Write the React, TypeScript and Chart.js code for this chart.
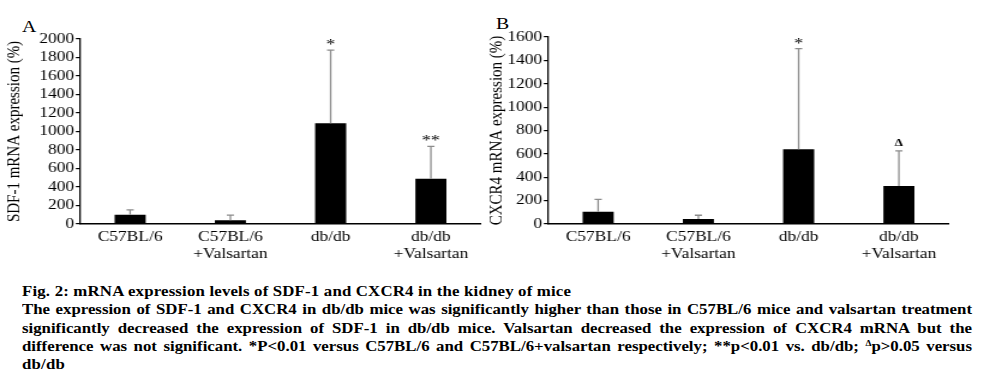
import React, { useEffect, useRef } from "react";
import { Chart, registerables } from "chart.js";

Chart.register(...registerables);

const FONT = '"Liberation Serif", "Times New Roman", serif';
const SX = 1.2; // horizontal stretch of the whole figure

const categories = [["C57BL/6"], ["C57BL/6", "+Valsartan"], ["db/db"], ["db/db", "+Valsartan"]];

const sdf1Means = [100, 40, 1090, 490];
const sdf1Errors = [52, 55, 790, 350];
const sdf1Marks = ["", "", "*", "**"];
const sdf1Max = 2000;
const sdf1Title = "SDF-1 mRNA expression (%)";

const cxcr4Means = [105, 42, 640, 325];
const cxcr4Errors = [105, 33, 860, 300];
const cxcr4Marks = ["", "", "*", "Δ"];
const cxcr4Max = 1600;
const cxcr4Title = "CXCR4 mRNA expression (%)";

const tickStep = 200;

const captionLines = [
  "Fig. 2: mRNA expression levels of SDF-1 and CXCR4 in the kidney of mice",
  "The expression of SDF-1 and CXCR4 in db/db mice was significantly higher than those in C57BL/6 mice and valsartan treatment",
  "significantly decreased the expression of SDF-1 in db/db mice. Valsartan decreased the expression of CXCR4 mRNA but the",
];

type PanelProps = {
  left: number;
  pageWidth: number;
  height: number;
  axisPageX: number;
  rightPageX: number;
  titlePageX: number;
  padTop: number;
  bottom: number;
  means: number[];
  errors: number[];
  marks: string[];
  max: number;
  title: string;
};

function Panel(p: PanelProps) {
  const ref = useRef<HTMLCanvasElement>(null);
  const width = Math.round(p.pageWidth / SX);
  useEffect(() => {
    const axisX = (p.axisPageX - p.left) / SX;
    const padRight = width - (p.rightPageX - p.left) / SX;
    const titleFont = 15;
    const titlePad = (p.titlePageX - p.left) / SX - (titleFont * 1.2) / 2;
    const errorPlugin = {
      id: "errorBars",
      afterDatasetsDraw(chart: any) {
        const ctx = chart.ctx;
        const meta = chart.getDatasetMeta(0);
        const y = chart.scales.y;
        ctx.save();
        meta.data.forEach((bar: any, i: number) => {
          const top = y.getPixelForValue(p.means[i] + p.errors[i]);
          ctx.strokeStyle = "#8c8c8c";
          ctx.lineWidth = 1.3;
          ctx.beginPath();
          ctx.moveTo(bar.x, bar.y);
          ctx.lineTo(bar.x, top);
          ctx.moveTo(bar.x - 3, top);
          ctx.lineTo(bar.x + 3, top);
          ctx.stroke();
          const m = p.marks[i];
          if (m) {
            ctx.fillStyle = "#000";
            ctx.textAlign = "center";
            ctx.textBaseline = "alphabetic";
            if (m === "Δ") {
              ctx.font = `bold 11px ${FONT}`;
              ctx.fillText(m, bar.x, top - 5);
            } else {
              ctx.font = `15px ${FONT}`;
              ctx.fillText(m, bar.x, top - 1);
            }
          }
        });
        ctx.restore();
      },
    };
    const chart = new Chart(ref.current as HTMLCanvasElement, {
      type: "bar",
      data: {
        labels: categories,
        datasets: [
          {
            data: p.means,
            backgroundColor: "#000",
            borderWidth: 0,
            barPercentage: 0.31,
            categoryPercentage: 1,
          },
        ],
      },
      options: {
        responsive: false,
        animation: false,
        maintainAspectRatio: false,
        layout: { padding: { top: p.padTop, right: padRight, left: 0, bottom: 0 } },
        plugins: { legend: { display: false }, tooltip: { enabled: false } },
        scales: {
          x: {
            grid: { display: false, drawTicks: false },
            border: { display: true, color: "#000", width: 1.5 },
            ticks: {
              color: "#000",
              font: { family: FONT, size: 14.5, lineHeight: 1.22 },
              padding: 4,
              maxRotation: 0,
              autoSkip: false,
            },
            afterFit: (s: any) => {
              s.height = p.height - p.bottom;
            },
          },
          y: {
            min: 0,
            max: p.max,
            ticks: {
              stepSize: tickStep,
              autoSkip: false,
              color: "#000",
              font: { family: FONT, size: 14.5 },
              padding: 1.5,
              callback: (v: any) => String(v),
            },
            grid: { drawOnChartArea: false, drawTicks: true, tickLength: 3.5, color: "#000", lineWidth: 1.2 },
            border: { display: true, color: "#000", width: 1.3 },
            title: {
              display: true,
              text: p.title,
              color: "#000",
              font: { family: FONT, size: titleFont, lineHeight: 1.2 },
              padding: { top: titlePad, bottom: 0 },
            },
            afterFit: (s: any) => {
              s.width = axisX;
            },
          },
        },
      },
      plugins: [errorPlugin],
    });
    return () => chart.destroy();
  }, []);
  return (
    <canvas
      ref={ref}
      width={width}
      height={p.height}
      style={{
        position: "absolute",
        left: p.left,
        top: 0,
        transform: `scaleX(${SX})`,
        transformOrigin: "0 0",
      }}
    />
  );
}

export default function App() {
  const capScale = 1.2;
  const capWidth = 950 / capScale;
  const lineStyle: React.CSSProperties = {
    whiteSpace: "nowrap",
    textAlign: "justify",
    textAlignLast: "justify",
    height: 18.3,
  };
  const letter: React.CSSProperties = {
    position: "absolute",
    fontFamily: FONT,
    fontSize: 16.5,
    color: "#000",
    transform: `scaleX(${SX})`,
    transformOrigin: "0 0",
  };
  return (
    <div style={{ position: "absolute", left: 0, top: 0, width: 991, height: 381, background: "#fff" }}>
      <div style={{ ...letter, left: 22, top: 17 }}>A</div>
      <div style={{ ...letter, left: 496, top: 14 }}>B</div>
      <Panel
        left={0}
        pageWidth={490}
        height={260}
        axisPageX={80}
        rightPageX={481}
        titlePageX={15}
        padTop={39}
        bottom={224}
        means={sdf1Means}
        errors={sdf1Errors}
        marks={sdf1Marks}
        max={sdf1Max}
        title={sdf1Title}
      />
      <Panel
        left={480}
        pageWidth={480}
        height={260}
        axisPageX={548}
        rightPageX={949}
        titlePageX={497}
        padTop={37}
        bottom={224}
        means={cxcr4Means}
        errors={cxcr4Errors}
        marks={cxcr4Marks}
        max={cxcr4Max}
        title={cxcr4Title}
      />
      <div
        style={{
          position: "absolute",
          left: 22,
          top: 283,
          width: capWidth,
          fontFamily: FONT,
          fontWeight: "bold",
          fontSize: 14,
          lineHeight: "18.3px",
          color: "#000",
          transform: `scaleX(${capScale})`,
          transformOrigin: "0 0",
        }}
      >
        <div style={{ whiteSpace: "nowrap", height: 18.3, letterSpacing: "0.15px" }}>{captionLines[0]}</div>
        <div style={lineStyle}>{captionLines[1]}</div>
        <div style={lineStyle}>{captionLines[2]}</div>
        <div style={lineStyle}>
          difference was not significant. *P&lt;0.01 versus C57BL/6 and C57BL/6+valsartan respectively; **p&lt;0.01 vs. db/db;{" "}
          <span style={{ fontSize: 8, verticalAlign: "top", lineHeight: "12px" }}>Δ</span>p&gt;0.05 versus
        </div>
        <div style={{ whiteSpace: "nowrap", height: 18.3, letterSpacing: "0.15px" }}>db/db</div>
      </div>
    </div>
  );
}
